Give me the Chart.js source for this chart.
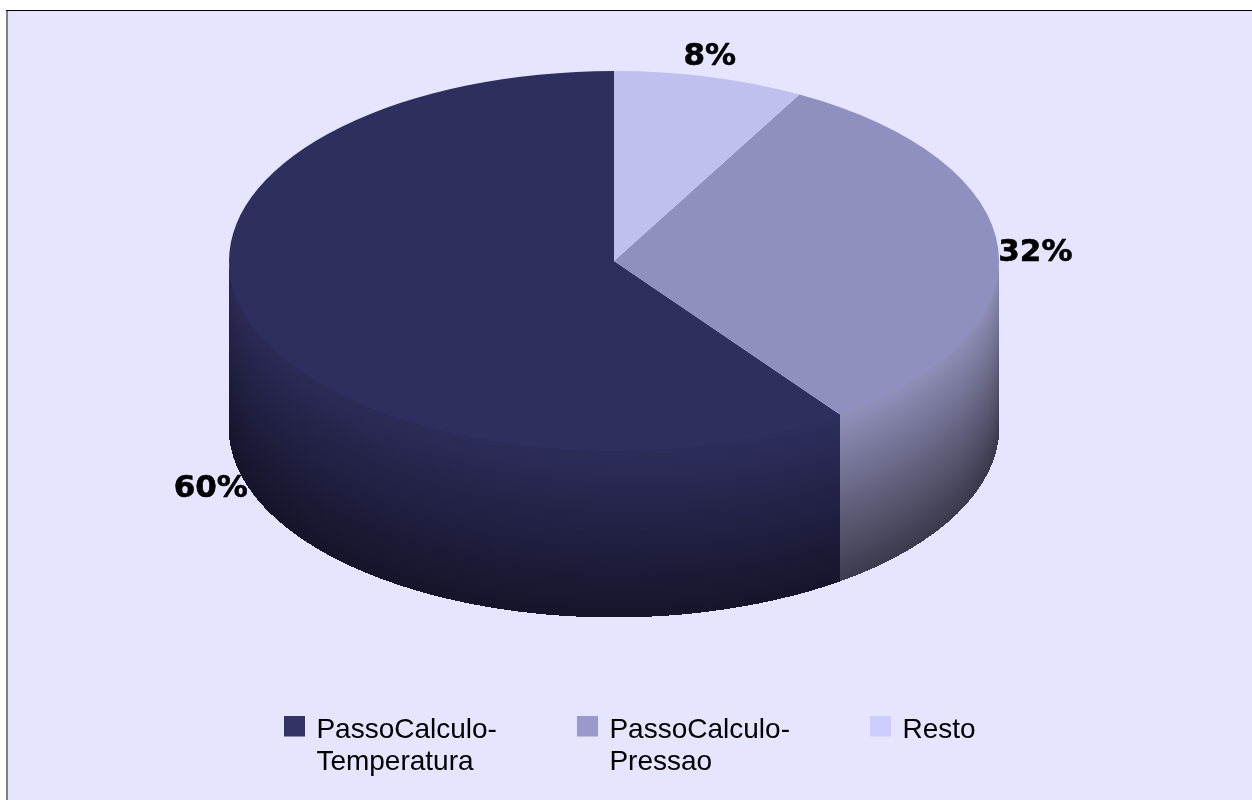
<!DOCTYPE html>
<html>
<head>
<meta charset="utf-8">
<title>Passo de calculo</title>
<script src="https://cdn.jsdelivr.net/npm/chart.js@4/dist/chart.umd.min.js"></script>
<style>
html, body { margin: 0; padding: 0; background: #fff; }
canvas { display: block; }
</style>
</head>
<body>
<canvas id="mychart" width="1252" height="800"></canvas>
<script>
// values
const categories = [['PassoCalculo-', 'Temperatura'], ['PassoCalculo-', 'Pressao'], ['Resto']];
const percents = [60, 32, 8];

const topColors = ['#2f2f5f', '#9090c0', '#c0c0f0'];
const legendColors = ['#333366', '#9999cc', '#ccccff'];
// wall shading: [left top, left bottom, right top, right bottom]
const wallColors = [
    [[42, 42, 85], [20, 20, 42], [47, 47, 95], [21, 21, 44]],
    [[160, 160, 208], [76, 76, 96], [140, 140, 180], [56, 56, 74]],
    [[192, 192, 240], [96, 96, 120], [192, 192, 240], [96, 96, 120]]
];

const pieTop = 71, pieBottom = 451, pieCenterX = 614, pieRadiusX = 385, wallDepth = 166;

function mix(a, b, t) {
    return 'rgb(' + a.map((v, i) => Math.round(v + (b[i] - v) * t)).join(',') + ')';
}

// pie is drawn round and mirrored/stretched in x, so it reads as a tilted disc
function stretch(ctx, arc) {
    ctx.translate(pieCenterX, arc.y);
    ctx.scale(-pieRadiusX / arc.outerRadius, 1);
    ctx.translate(-arc.x, -arc.y);
}

function drawWall(chart, arc, i) {
    let from = Math.max(arc.startAngle, 0);
    let to = Math.min(arc.endAngle, Math.PI);
    if (to <= from) return;
    const ctx = chart.ctx;
    const left = pieCenterX - pieRadiusX, right = pieCenterX + pieRadiusX;
    const c = wallColors[i];
    ctx.save();
    stretch(ctx, arc);
    ctx.beginPath();
    // top edge goes a little under the slice, so no background shows on the rim
    ctx.arc(arc.x, arc.y - 2, arc.outerRadius, from, to);
    ctx.arc(arc.x, arc.y + wallDepth, arc.outerRadius, to, from, true);
    ctx.closePath();
    ctx.clip();
    // paint bands that follow the rim, each one a bit darker
    for (let d = -2; d <= wallDepth; d++) {
        const t = Math.max(d, 0) / wallDepth;
        ctx.save();
        ctx.setTransform(1, 0, 0, 1, 0, 0);
        const g = ctx.createLinearGradient(left, 0, right, 0);
        g.addColorStop(0, mix(c[0], c[1], t));
        g.addColorStop(1, mix(c[2], c[3], t));
        ctx.fillStyle = g;
        ctx.beginPath();
        ctx.ellipse(pieCenterX, arc.y + d, pieRadiusX, arc.outerRadius, 0, 0, Math.PI);
        ctx.lineTo(left, 800);
        ctx.lineTo(right, 800);
        ctx.closePath();
        ctx.fill();
        ctx.restore();
    }
    ctx.restore();
}

// legend swatch, a bit taller than the box so the box sits above the text middle
function swatch(color) {
    const c = document.createElement('canvas');
    c.width = 21;
    c.height = 29;
    const x = c.getContext('2d');
    x.fillStyle = color;
    x.fillRect(0, 0, 21, 21);
    return c;
}

// legend measures label text with toString, so give it just the longest line
function labelLines(lines) {
    const text = lines.slice();
    text.toString = () => lines.reduce((a, b) => a.length >= b.length ? a : b);
    return text;
}

const piePlugin = {
    id: 'pie3d',
    beforeDraw(chart) {
        const ctx = chart.ctx;
        ctx.save();
        ctx.fillStyle = '#e5e5ff';
        ctx.fillRect(6, 10, 1246, 790);
        ctx.fillStyle = '#808080';
        ctx.fillRect(6, 10, 2, 790);
        ctx.fillStyle = '#000';
        ctx.fillRect(6, 10, 1246, 1);
        ctx.restore();
    },
    afterLayout(chart) {
        // legend keeps its place at the bottom, the pie goes in the upper part
        chart.chartArea.top = pieTop;
        chart.chartArea.bottom = pieBottom;
        chart.chartArea.left = 0;
        chart.chartArea.right = 1228;
        chart.chartArea.width = 1228;
        chart.chartArea.height = pieBottom - pieTop;
        // second label line falls outside the box the legend clips to
        chart.legend.bottom = 800;
    },
    beforeDatasetsDraw(chart) {
        chart.getDatasetMeta(0).data.forEach((arc, i) => drawWall(chart, arc, i));
        chart.ctx.save();
        stretch(chart.ctx, chart.getDatasetMeta(0).data[0]);
    },
    afterDatasetsDraw(chart) {
        const ctx = chart.ctx;
        ctx.restore();
        ctx.save();
        ctx.font = 'bold 31px "DejaVu Sans"';
        ctx.fillStyle = '#000';
        ctx.strokeStyle = '#000';
        ctx.lineWidth = 0.6;
        ctx.textBaseline = 'middle';
        chart.getDatasetMeta(0).data.forEach((arc, i) => {
            const mid = (arc.startAngle + arc.endAngle) / 2;
            const dx = -Math.cos(mid);
            const x = pieCenterX + pieRadiusX * dx;
            let y = arc.y + arc.outerRadius * Math.sin(mid);
            if (Math.sin(mid) > 0) y += wallDepth + 3;
            if (Math.abs(dx) < 0.5) {
                ctx.textAlign = 'center';
                y -= 20;
            } else {
                ctx.textAlign = dx > 0 ? 'left' : 'right';
                if (dx > 0) y += 4;
            }
            ctx.fillText(percents[i] + '%', x, y);
            ctx.strokeText(percents[i] + '%', x, y);
        });
        ctx.restore();
    }
};

var chart = new Chart(document.getElementById('mychart').getContext('2d'), {
    type: 'pie',
    data: {
        labels: categories,
        datasets: [{
            data: percents,
            backgroundColor: topColors,
            borderWidth: 0
        }]
    },
    options: {
        responsive: false,
        animation: false,
        layout: { padding: { left: 11, right: 0, top: 0, bottom: 46 } },
        plugins: {
            tooltip: { enabled: false },
            legend: {
                position: 'bottom',
                labels: {
                    usePointStyle: true,
                    pointStyleWidth: 15,
                    boxHeight: 21,
                    padding: 83.5,
                    color: '#000',
                    font: { family: '"Liberation Sans"', size: 28, lineHeight: 1.15 },
                    generateLabels: () => categories.map((lines, i) => ({
                        text: labelLines(lines),
                        pointStyle: swatch(legendColors[i]),
                        fillStyle: legendColors[i],
                        strokeStyle: legendColors[i],
                        lineWidth: 0,
                        index: i
                    }))
                }
            }
        }
    },
    plugins: [piePlugin]
});
</script>
</body>
</html>
